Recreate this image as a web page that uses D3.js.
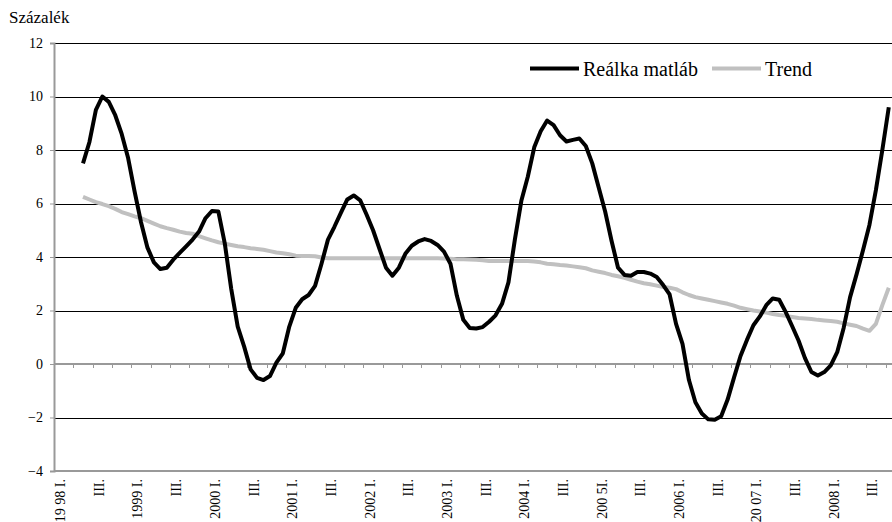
<!DOCTYPE html>
<html>
<head>
<meta charset="utf-8">
<script src="https://cdn.jsdelivr.net/npm/d3@7"></script>
<style>
  html, body { margin: 0; padding: 0; background: #fff; }
  svg { display: block; }
</style>
</head>
<body>
<svg id="chart" width="892" height="522"></svg>
<script>
// Monthly categories, January 1998 – October 2008
const monthsCount = 130;
const categories = d3.range(monthsCount);

// Quarter labels shown under the axis (one every six months)
const tickLabels = ["19 98 I.", "III.", "1999 I.", "III.", "2000 I.", "III.", "2001 I.", "III.",
  "2002 I.", "III.", "2003 I.", "III.", "2004 I.", "III.", "200 5I.", "III.",
  "2006 I.", "III.", "20 07 I.", "III.", "2008 I.", "III."];

// Real interest rate (percent), May 1998 onwards
const realRateStart = 4;
const realRate = [
  7.5, 8.3, 9.5, 10.0, 9.8, 9.3, 8.6, 7.7, 6.45, 5.3, 4.35, 3.8, 3.55, 3.6, 3.9, 4.15,
  4.4, 4.65, 4.95, 5.45, 5.72, 5.7, 4.5, 2.8, 1.4, 0.65, -0.2, -0.52, -0.6, -0.45, 0.05, 0.4,
  1.4, 2.1, 2.42, 2.58, 2.92, 3.75, 4.65, 5.13, 5.65, 6.15, 6.3, 6.12, 5.58, 5.0, 4.3, 3.6,
  3.3, 3.6, 4.12, 4.42, 4.58, 4.67, 4.6, 4.45, 4.2, 3.75, 2.55, 1.65, 1.35, 1.33, 1.38, 1.58,
  1.82, 2.25, 3.05, 4.66, 6.1, 7.0, 8.1, 8.7, 9.1, 8.93, 8.55, 8.32, 8.38, 8.43, 8.15, 7.5,
  6.6, 5.7, 4.6, 3.6, 3.33, 3.3, 3.44, 3.44, 3.38, 3.25, 2.95, 2.6, 1.5, 0.75, -0.6, -1.43,
  -1.85, -2.07, -2.08, -1.95, -1.33, -0.5, 0.3, 0.9, 1.45, 1.78, 2.2, 2.45, 2.4, 1.95, 1.42, 0.88,
  0.22, -0.3, -0.43, -0.3, -0.05, 0.44, 1.35, 2.5, 3.35, 4.25, 5.2, 6.5, 8.0, 9.6
];

// Trend of the real interest rate (percent), May 1998 onwards
const trend = [
  6.25, 6.15, 6.05, 5.98, 5.9, 5.8, 5.68, 5.6, 5.52, 5.45, 5.35, 5.25, 5.15, 5.08, 5.02, 4.95,
  4.9, 4.87, 4.78, 4.7, 4.62, 4.55, 4.5, 4.45, 4.4, 4.37, 4.33, 4.3, 4.27, 4.22, 4.17, 4.14,
  4.1, 4.05, 4.04, 4.04, 4.03, 3.98, 3.95, 3.95, 3.95, 3.95, 3.95, 3.95, 3.95, 3.95, 3.95, 3.95,
  3.95, 3.95, 3.95, 3.95, 3.95, 3.95, 3.95, 3.95, 3.94, 3.93, 3.92, 3.92, 3.91, 3.9, 3.88, 3.85,
  3.85, 3.85, 3.85, 3.85, 3.85, 3.85, 3.83, 3.8, 3.75, 3.73, 3.7, 3.68, 3.65, 3.62, 3.58, 3.5,
  3.45, 3.4, 3.33, 3.28, 3.22, 3.15, 3.08, 3.02, 2.98, 2.93, 2.88, 2.85, 2.8, 2.68, 2.58, 2.5,
  2.45, 2.4, 2.35, 2.3, 2.25, 2.18, 2.1, 2.05, 2.0, 1.96, 1.92, 1.87, 1.83, 1.8, 1.76, 1.72,
  1.7, 1.68, 1.65, 1.63, 1.61, 1.58, 1.52, 1.47, 1.42, 1.32, 1.24, 1.5, 2.2, 2.85
];

const yTicks = [-4, -2, 0, 2, 4, 6, 8, 10, 12];
const seriesNames = ["Reálka matláb", "Trend"];
const seriesColors = ["#000000", "#c0c0c0"];
const serif = "'Liberation Serif', 'Times New Roman', serif";

const svg = d3.select("#chart");
const plotLeft = 54, plotRight = 892, plotTop = 43, plotBottom = 471;

const x = d3.scaleBand().domain(categories).range([plotLeft, plotRight]).paddingInner(0).paddingOuter(0);
const y = d3.scaleLinear().domain([-4, 12]).range([plotBottom, plotTop]);
const cx = i => x(i) + x.bandwidth() / 2;

// Horizontal gridlines
svg.append("g").selectAll("line")
  .data(yTicks.filter(v => v !== 0 && v !== -4))
  .join("line")
  .attr("x1", plotLeft).attr("x2", plotRight)
  .attr("y1", d => Math.round(y(d)) + 0.5).attr("y2", d => Math.round(y(d)) + 0.5)
  .attr("stroke", "#000").attr("stroke-width", 1);

// Bottom edge of the plot
svg.append("line")
  .attr("x1", plotLeft).attr("x2", plotRight)
  .attr("y1", Math.round(y(-4))).attr("y2", Math.round(y(-4)))
  .attr("stroke", "#999").attr("stroke-width", 2);

// Y axis
const yAxis = d3.axisLeft(y).tickValues(yTicks).tickSize(4).tickPadding(7).tickFormat(d3.format("d"));
const gy = svg.append("g").attr("transform", `translate(${plotLeft},0)`).call(yAxis);
gy.select(".domain").attr("stroke", "#999").attr("stroke-width", 2);
gy.selectAll(".tick line").attr("stroke", "#999").attr("stroke-width", 1);
gy.selectAll(".tick text")
  .style("font-family", serif).style("font-size", "14px").attr("fill", "#000");

// Category axis along zero with quarterly tick marks
const y0 = Math.round(y(0));
svg.append("line")
  .attr("x1", plotLeft).attr("x2", plotRight).attr("y1", y0).attr("y2", y0)
  .attr("stroke", "#999").attr("stroke-width", 2);
svg.append("g").selectAll("line")
  .data(categories.filter(i => i > 0 && i % 3 === 0))
  .join("line")
  .attr("x1", d => Math.round(x(d)) + 0.5).attr("x2", d => Math.round(x(d)) + 0.5)
  .attr("y1", y0).attr("y2", y0 + 4)
  .attr("stroke", "#999").attr("stroke-width", 1);

// Rotated category labels below the plot
svg.append("g").selectAll("text")
  .data(tickLabels)
  .join("text")
  .attr("transform", (d, k) => `translate(${cx(k * 6) + 3},${plotBottom + 8}) rotate(-90)`)
  .attr("dy", "0.35em")
  .attr("text-anchor", "end")
  .style("font-family", serif)
  .style("font-size", "14px")
  .attr("fill", "#000")
  .text(d => d);

// Series lines
const line = d3.line()
  .x((d, k) => cx(k + realRateStart))
  .y(d => y(d));

svg.append("path").datum(trend)
  .attr("d", line).attr("fill", "none")
  .attr("stroke", seriesColors[1]).attr("stroke-width", 4).attr("stroke-linejoin", "round");
svg.append("path").datum(realRate)
  .attr("d", line).attr("fill", "none")
  .attr("stroke", seriesColors[0]).attr("stroke-width", 4).attr("stroke-linejoin", "round");

// Legend
const legend = svg.append("g");
const legendItems = [
  { name: seriesNames[0], color: seriesColors[0], x: 530 },
  { name: seriesNames[1], color: seriesColors[1], x: 712 }
];
legendItems.forEach(it => {
  legend.append("line")
    .attr("x1", it.x).attr("x2", it.x + 49).attr("y1", 68.5).attr("y2", 68.5)
    .attr("stroke", it.color).attr("stroke-width", 4);
  legend.append("text")
    .attr("x", it.x + 53).attr("y", 76)
    .style("font-family", serif)
    .style("font-size", "20px").attr("fill", "#000")
    .text(it.name);
});

// Unit label
svg.append("text")
  .attr("x", 9).attr("y", 23)
  .style("font-family", serif)
  .style("font-size", "17px").attr("fill", "#000")
  .text("Százalék");
</script>
</body>
</html>
